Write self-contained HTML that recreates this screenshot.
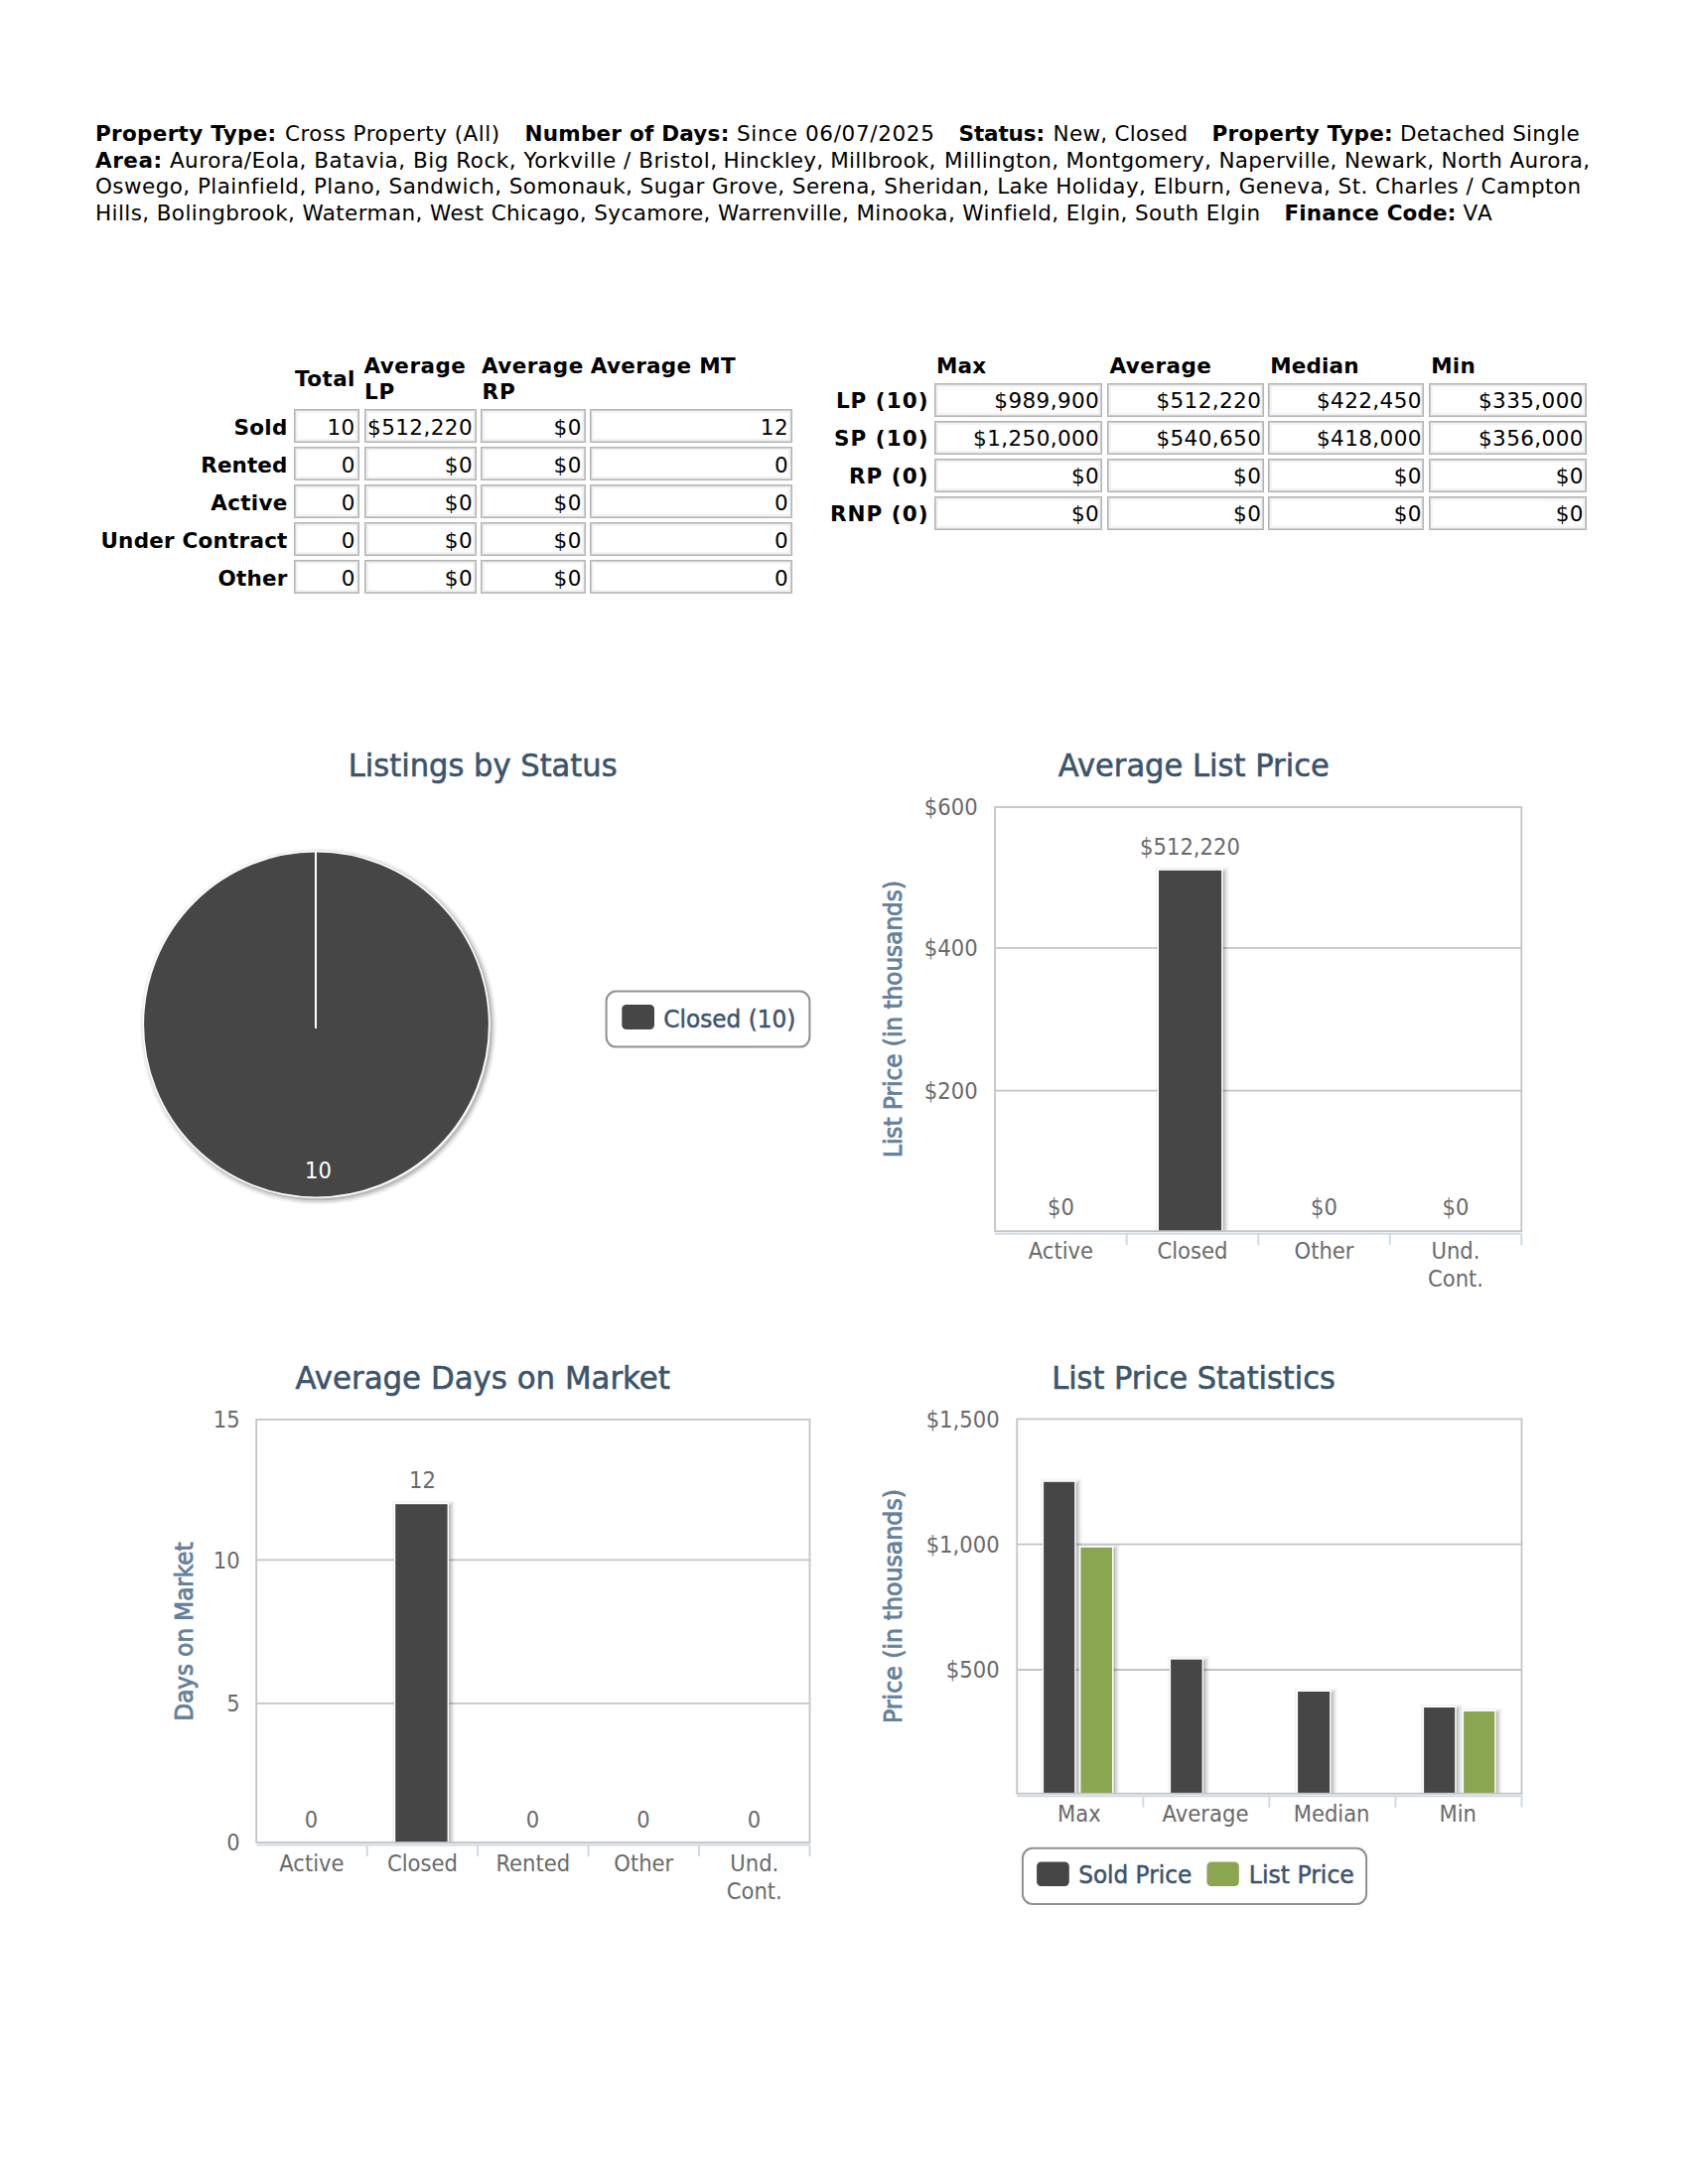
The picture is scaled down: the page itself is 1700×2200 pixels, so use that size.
<!DOCTYPE html>
<html lang="en"><head><meta charset="utf-8"><title>Market Statistics</title>
<style>
html,body{margin:0;padding:0;background:#fff}
body{width:1700px;height:2200px;position:relative;overflow:hidden;font-family:"DejaVu Sans","Liberation Sans",sans-serif;color:#000}
.t{position:absolute;white-space:nowrap;line-height:30px;height:30px}
.t b{font-weight:bold}
.c{position:absolute;box-sizing:border-box;border:1px solid #b4b4b4;box-shadow:inset 0 0 0 1px #cdcdcd,inset 0 0 0 3px #f3f3f3;background:#fff}
svg{position:absolute;left:0;top:0}
svg text{font-family:"DejaVu Sans","Liberation Sans",sans-serif}
svg text.cb{font-family:"DejaVu Sans Condensed","DejaVu Sans","Liberation Sans",sans-serif}
</style></head><body>
<div class="c" style="left:296.2px;top:412.3px;width:65.5px;height:33.4px"></div>
<div class="c" style="left:366.6px;top:412.3px;width:113.4px;height:33.4px"></div>
<div class="c" style="left:484.4px;top:412.3px;width:105.3px;height:33.4px"></div>
<div class="c" style="left:594.2px;top:412.3px;width:203.8px;height:33.4px"></div>
<div class="c" style="left:296.2px;top:450.3px;width:65.5px;height:33.4px"></div>
<div class="c" style="left:366.6px;top:450.3px;width:113.4px;height:33.4px"></div>
<div class="c" style="left:484.4px;top:450.3px;width:105.3px;height:33.4px"></div>
<div class="c" style="left:594.2px;top:450.3px;width:203.8px;height:33.4px"></div>
<div class="c" style="left:296.2px;top:488.3px;width:65.5px;height:33.4px"></div>
<div class="c" style="left:366.6px;top:488.3px;width:113.4px;height:33.4px"></div>
<div class="c" style="left:484.4px;top:488.3px;width:105.3px;height:33.4px"></div>
<div class="c" style="left:594.2px;top:488.3px;width:203.8px;height:33.4px"></div>
<div class="c" style="left:296.2px;top:526.3px;width:65.5px;height:33.4px"></div>
<div class="c" style="left:366.6px;top:526.3px;width:113.4px;height:33.4px"></div>
<div class="c" style="left:484.4px;top:526.3px;width:105.3px;height:33.4px"></div>
<div class="c" style="left:594.2px;top:526.3px;width:203.8px;height:33.4px"></div>
<div class="c" style="left:296.2px;top:564.3px;width:65.5px;height:33.4px"></div>
<div class="c" style="left:366.6px;top:564.3px;width:113.4px;height:33.4px"></div>
<div class="c" style="left:484.4px;top:564.3px;width:105.3px;height:33.4px"></div>
<div class="c" style="left:594.2px;top:564.3px;width:203.8px;height:33.4px"></div>
<div class="c" style="left:940.8px;top:386.0px;width:169.5px;height:33.6px"></div>
<div class="c" style="left:1115.4px;top:386.0px;width:157.2px;height:33.6px"></div>
<div class="c" style="left:1277.1px;top:386.0px;width:156.9px;height:33.6px"></div>
<div class="c" style="left:1439.2px;top:386.0px;width:159.2px;height:33.6px"></div>
<div class="c" style="left:940.8px;top:424.0px;width:169.5px;height:33.6px"></div>
<div class="c" style="left:1115.4px;top:424.0px;width:157.2px;height:33.6px"></div>
<div class="c" style="left:1277.1px;top:424.0px;width:156.9px;height:33.6px"></div>
<div class="c" style="left:1439.2px;top:424.0px;width:159.2px;height:33.6px"></div>
<div class="c" style="left:940.8px;top:462.0px;width:169.5px;height:33.6px"></div>
<div class="c" style="left:1115.4px;top:462.0px;width:157.2px;height:33.6px"></div>
<div class="c" style="left:1277.1px;top:462.0px;width:156.9px;height:33.6px"></div>
<div class="c" style="left:1439.2px;top:462.0px;width:159.2px;height:33.6px"></div>
<div class="c" style="left:940.8px;top:500.0px;width:169.5px;height:33.6px"></div>
<div class="c" style="left:1115.4px;top:500.0px;width:157.2px;height:33.6px"></div>
<div class="c" style="left:1277.1px;top:500.0px;width:156.9px;height:33.6px"></div>
<div class="c" style="left:1439.2px;top:500.0px;width:159.2px;height:33.6px"></div>
<div class="t" style="font-size:21.50px;top:120.46px;left:96.00px;letter-spacing:0.308px;"><b>Property Type:</b></div>
<div class="t" style="font-size:21.50px;top:120.46px;left:287.00px;letter-spacing:0.474px;">Cross Property (All)</div>
<div class="t" style="font-size:21.50px;top:120.46px;left:528.50px;letter-spacing:0.234px;"><b>Number of Days:</b></div>
<div class="t" style="font-size:21.50px;top:120.46px;left:742.00px;letter-spacing:0.652px;">Since 06/07/2025</div>
<div class="t" style="font-size:21.50px;top:120.46px;left:965.50px;letter-spacing:-0.107px;"><b>Status:</b></div>
<div class="t" style="font-size:21.50px;top:120.46px;left:1060.50px;letter-spacing:0.293px;">New, Closed</div>
<div class="t" style="font-size:21.50px;top:120.46px;left:1220.50px;letter-spacing:0.308px;"><b>Property Type:</b></div>
<div class="t" style="font-size:21.50px;top:120.46px;left:1410.00px;letter-spacing:0.291px;">Detached Single</div>
<div class="t" style="font-size:21.50px;top:146.86px;left:96.00px;letter-spacing:0.518px;"><b>Area:</b> Aurora/Eola, Batavia, Big Rock, Yorkville / Bristol,</div>
<div class="t" style="font-size:21.50px;top:146.86px;left:728.50px;letter-spacing:0.219px;">Hinckley, Millbrook,</div>
<div class="t" style="font-size:21.50px;top:146.86px;left:951.00px;letter-spacing:0.328px;">Millington, Montgomery, Naperville, Newark, North Aurora,</div>
<div class="t" style="font-size:21.50px;top:173.26px;left:96.00px;letter-spacing:0.439px;">Oswego, Plainfield, Plano, Sandwich, Somonauk, Sugar Grove, Serena, Sheridan, Lake Holiday, Elburn, Geneva, St. Charles / Campton</div>
<div class="t" style="font-size:21.50px;top:199.66px;left:96.00px;letter-spacing:0.396px;">Hills, Bolingbrook, Waterman, West Chicago, Sycamore, Warrenville, Minooka, Winfield, Elgin, South Elgin</div>
<div class="t" style="font-size:21.50px;top:199.66px;left:1293.50px;letter-spacing:0.145px;"><b>Finance Code:</b></div>
<div class="t" style="font-size:21.50px;top:199.66px;left:1473.50px;letter-spacing:1.227px;">VA</div>
<div class="t" style="font-size:21.50px;top:415.56px;right:1410.60px;letter-spacing:0.321px;margin-right:-0.321px;"><b>Sold</b></div>
<div class="t" style="font-size:21.50px;top:415.76px;right:1342.70px;letter-spacing:0.445px;margin-right:-0.445px;">10</div>
<div class="t" style="font-size:21.50px;top:415.76px;right:1224.40px;letter-spacing:0.418px;margin-right:-0.418px;">$512,220</div>
<div class="t" style="font-size:21.50px;top:415.76px;right:1114.60px;letter-spacing:0.445px;margin-right:-0.445px;">$0</div>
<div class="t" style="font-size:21.50px;top:415.76px;right:906.40px;letter-spacing:0.445px;margin-right:-0.445px;">12</div>
<div class="t" style="font-size:21.50px;top:453.56px;right:1410.60px;letter-spacing:0.083px;margin-right:-0.083px;"><b>Rented</b></div>
<div class="t" style="font-size:21.50px;top:453.76px;right:1342.70px;letter-spacing:0.446px;margin-right:-0.446px;">0</div>
<div class="t" style="font-size:21.50px;top:453.76px;right:1224.40px;letter-spacing:0.445px;margin-right:-0.445px;">$0</div>
<div class="t" style="font-size:21.50px;top:453.76px;right:1114.60px;letter-spacing:0.445px;margin-right:-0.445px;">$0</div>
<div class="t" style="font-size:21.50px;top:453.76px;right:906.40px;letter-spacing:0.446px;margin-right:-0.446px;">0</div>
<div class="t" style="font-size:21.50px;top:491.56px;right:1410.60px;letter-spacing:0.293px;margin-right:-0.293px;"><b>Active</b></div>
<div class="t" style="font-size:21.50px;top:491.76px;right:1342.70px;letter-spacing:0.446px;margin-right:-0.446px;">0</div>
<div class="t" style="font-size:21.50px;top:491.76px;right:1224.40px;letter-spacing:0.445px;margin-right:-0.445px;">$0</div>
<div class="t" style="font-size:21.50px;top:491.76px;right:1114.60px;letter-spacing:0.445px;margin-right:-0.445px;">$0</div>
<div class="t" style="font-size:21.50px;top:491.76px;right:906.40px;letter-spacing:0.446px;margin-right:-0.446px;">0</div>
<div class="t" style="font-size:21.50px;top:529.56px;right:1410.60px;letter-spacing:0.222px;margin-right:-0.222px;"><b>Under Contract</b></div>
<div class="t" style="font-size:21.50px;top:529.76px;right:1342.70px;letter-spacing:0.446px;margin-right:-0.446px;">0</div>
<div class="t" style="font-size:21.50px;top:529.76px;right:1224.40px;letter-spacing:0.445px;margin-right:-0.445px;">$0</div>
<div class="t" style="font-size:21.50px;top:529.76px;right:1114.60px;letter-spacing:0.445px;margin-right:-0.445px;">$0</div>
<div class="t" style="font-size:21.50px;top:529.76px;right:906.40px;letter-spacing:0.446px;margin-right:-0.446px;">0</div>
<div class="t" style="font-size:21.50px;top:567.56px;right:1410.60px;letter-spacing:0.191px;margin-right:-0.191px;"><b>Other</b></div>
<div class="t" style="font-size:21.50px;top:567.76px;right:1342.70px;letter-spacing:0.446px;margin-right:-0.446px;">0</div>
<div class="t" style="font-size:21.50px;top:567.76px;right:1224.40px;letter-spacing:0.445px;margin-right:-0.445px;">$0</div>
<div class="t" style="font-size:21.50px;top:567.76px;right:1114.60px;letter-spacing:0.445px;margin-right:-0.445px;">$0</div>
<div class="t" style="font-size:21.50px;top:567.76px;right:906.40px;letter-spacing:0.446px;margin-right:-0.446px;">0</div>
<div class="t" style="font-size:21.50px;top:367.16px;left:297.00px;letter-spacing:0.430px;"><b>Total</b></div>
<div class="t" style="font-size:21.50px;top:353.96px;left:366.50px;letter-spacing:0.477px;"><b>Average</b></div>
<div class="t" style="font-size:21.50px;top:380.06px;left:367.00px;letter-spacing:0.816px;"><b>LP</b></div>
<div class="t" style="font-size:21.50px;top:353.96px;left:484.90px;letter-spacing:0.477px;"><b>Average</b></div>
<div class="t" style="font-size:21.50px;top:380.06px;left:485.50px;letter-spacing:0.936px;"><b>RP</b></div>
<div class="t" style="font-size:21.50px;top:353.96px;left:594.80px;letter-spacing:0.299px;"><b>Average MT</b></div>
<div class="t" style="font-size:21.50px;top:389.46px;right:765.50px;letter-spacing:1.012px;margin-right:-1.012px;"><b>LP (10)</b></div>
<div class="t" style="font-size:21.50px;top:389.46px;right:593.20px;letter-spacing:0.418px;margin-right:-0.418px;">$989,900</div>
<div class="t" style="font-size:21.50px;top:389.46px;right:430.10px;letter-spacing:0.418px;margin-right:-0.418px;">$512,220</div>
<div class="t" style="font-size:21.50px;top:389.46px;right:268.50px;letter-spacing:0.418px;margin-right:-0.418px;">$422,450</div>
<div class="t" style="font-size:21.50px;top:389.46px;right:105.50px;letter-spacing:0.418px;margin-right:-0.418px;">$335,000</div>
<div class="t" style="font-size:21.50px;top:427.46px;right:765.50px;letter-spacing:1.027px;margin-right:-1.027px;"><b>SP (10)</b></div>
<div class="t" style="font-size:21.50px;top:427.46px;right:593.20px;letter-spacing:0.401px;margin-right:-0.401px;">$1,250,000</div>
<div class="t" style="font-size:21.50px;top:427.46px;right:430.10px;letter-spacing:0.418px;margin-right:-0.418px;">$540,650</div>
<div class="t" style="font-size:21.50px;top:427.46px;right:268.50px;letter-spacing:0.418px;margin-right:-0.418px;">$418,000</div>
<div class="t" style="font-size:21.50px;top:427.46px;right:105.50px;letter-spacing:0.418px;margin-right:-0.418px;">$356,000</div>
<div class="t" style="font-size:21.50px;top:465.46px;right:765.50px;letter-spacing:1.030px;margin-right:-1.030px;"><b>RP (0)</b></div>
<div class="t" style="font-size:21.50px;top:465.46px;right:593.20px;letter-spacing:0.445px;margin-right:-0.445px;">$0</div>
<div class="t" style="font-size:21.50px;top:465.46px;right:430.10px;letter-spacing:0.445px;margin-right:-0.445px;">$0</div>
<div class="t" style="font-size:21.50px;top:465.46px;right:268.50px;letter-spacing:0.445px;margin-right:-0.445px;">$0</div>
<div class="t" style="font-size:21.50px;top:465.46px;right:105.50px;letter-spacing:0.445px;margin-right:-0.445px;">$0</div>
<div class="t" style="font-size:21.50px;top:503.46px;right:765.50px;letter-spacing:1.028px;margin-right:-1.028px;"><b>RNP (0)</b></div>
<div class="t" style="font-size:21.50px;top:503.46px;right:593.20px;letter-spacing:0.445px;margin-right:-0.445px;">$0</div>
<div class="t" style="font-size:21.50px;top:503.46px;right:430.10px;letter-spacing:0.445px;margin-right:-0.445px;">$0</div>
<div class="t" style="font-size:21.50px;top:503.46px;right:268.50px;letter-spacing:0.445px;margin-right:-0.445px;">$0</div>
<div class="t" style="font-size:21.50px;top:503.46px;right:105.50px;letter-spacing:0.445px;margin-right:-0.445px;">$0</div>
<div class="t" style="font-size:21.50px;top:353.76px;left:942.90px;letter-spacing:0.240px;"><b>Max</b></div>
<div class="t" style="font-size:21.50px;top:353.76px;left:1117.50px;letter-spacing:0.477px;"><b>Average</b></div>
<div class="t" style="font-size:21.50px;top:353.76px;left:1279.20px;letter-spacing:0.173px;"><b>Median</b></div>
<div class="t" style="font-size:21.50px;top:353.76px;left:1441.30px;letter-spacing:0.174px;"><b>Min</b></div>
<svg width="1700" height="2200" viewBox="0 0 1700 2200">
<text x="486.2" y="781.7" font-size="32.5" fill="#3b546c" text-anchor="middle" textLength="270.8" lengthAdjust="spacingAndGlyphs" stroke="#3b546c" stroke-width="0.6">Listings by Status</text>
<circle cx="320.6" cy="1034.1" r="174.2" fill="none" stroke="#000" stroke-opacity="0.05" stroke-width="10.4"/>
<circle cx="320.6" cy="1034.1" r="174.2" fill="none" stroke="#000" stroke-opacity="0.10" stroke-width="6.2"/>
<circle cx="320.6" cy="1034.1" r="174.2" fill="none" stroke="#000" stroke-opacity="0.15" stroke-width="2.1"/>
<circle cx="318.5" cy="1032.0" r="174.2" fill="#464646" stroke="#fff" stroke-width="1.6"/>
<path d="M318.0 1036.0V857.8" stroke="#fff" stroke-width="2"/>
<text x="320.5" y="1187.0" font-size="22.6" fill="#ffffff" text-anchor="middle" textLength="26.9" lengthAdjust="spacingAndGlyphs">10</text>
<rect x="610.6" y="998.5" width="204.8" height="56.1" rx="10" fill="#fff" stroke="#909090" stroke-width="2"/>
<rect x="626.3" y="1012.0" width="32.7" height="25.0" rx="4.5" fill="#464646"/>
<text x="668.3" y="1034.5" font-size="25.0" fill="#3b546c" textLength="133.0" lengthAdjust="spacingAndGlyphs" stroke="#3b546c" stroke-width="0.5">Closed (10)</text>
<path d="M1002.1 954.8H1532.3" stroke="#c4c4c4" stroke-width="1.8" fill="none"/><path d="M1002.1 1098.7H1532.3" stroke="#c4c4c4" stroke-width="1.8" fill="none"/>
<text x="1202.3" y="781.7" font-size="32.5" fill="#3b546c" text-anchor="middle" textLength="273.0" lengthAdjust="spacingAndGlyphs" stroke="#3b546c" stroke-width="0.6">Average List Price</text>
<text x="984.6" y="821.2" font-size="22.6" fill="#6a6a6a" text-anchor="end" textLength="53.8" lengthAdjust="spacingAndGlyphs">$600</text>
<text x="984.6" y="963.0" font-size="22.6" fill="#6a6a6a" text-anchor="end" textLength="53.8" lengthAdjust="spacingAndGlyphs">$400</text>
<text x="984.6" y="1106.9" font-size="22.6" fill="#6a6a6a" text-anchor="end" textLength="53.8" lengthAdjust="spacingAndGlyphs">$200</text>
<clipPath id="cp1"><rect x="1002.1" y="813.0" width="530.2" height="427.2"/></clipPath><g clip-path="url(#cp1)"><rect x="1169.1" y="878.9" width="63.1" height="369.4" rx="0.0" fill="none" stroke="#000" stroke-opacity="0.05" stroke-width="10.4"/><rect x="1169.1" y="878.9" width="63.1" height="369.4" rx="0.0" fill="none" stroke="#000" stroke-opacity="0.10" stroke-width="6.2"/><rect x="1169.1" y="878.9" width="63.1" height="369.4" rx="0.0" fill="none" stroke="#000" stroke-opacity="0.15" stroke-width="2.1"/><rect x="1165.5" y="875.3" width="66.1" height="372.4" fill="#fff"/><rect x="1167.0" y="876.8" width="63.1" height="369.4" fill="#464646"/></g>
<path d="M1002.1 1242.7H1532.3" stroke="#cfdbe7" stroke-width="2" fill="none"/><path d="M1134.7 1242.2v12M1267.2 1242.2v12M1399.8 1242.2v12M1532.3 1242.2v12" stroke="#cfdbe7" stroke-width="2" fill="none"/><rect x="1002.1" y="813.0" width="530.2" height="427.2" fill="none" stroke="#c4c4c4" stroke-width="1.8"/>
<text x="1068.4" y="1268.3" font-size="22.6" fill="#6a6a6a" text-anchor="middle" textLength="65.3" lengthAdjust="spacingAndGlyphs">Active</text>
<text x="1200.9" y="1268.3" font-size="22.6" fill="#6a6a6a" text-anchor="middle" textLength="71.0" lengthAdjust="spacingAndGlyphs">Closed</text>
<text x="1333.5" y="1268.3" font-size="22.6" fill="#6a6a6a" text-anchor="middle" textLength="60.0" lengthAdjust="spacingAndGlyphs">Other</text>
<text x="1466.0" y="1268.3" font-size="22.6" fill="#6a6a6a" text-anchor="middle" textLength="49.0" lengthAdjust="spacingAndGlyphs">Und.</text>
<text x="1466.0" y="1296.4" font-size="22.6" fill="#6a6a6a" text-anchor="middle" textLength="56.1" lengthAdjust="spacingAndGlyphs">Cont.</text>
<text x="1198.5" y="860.7" font-size="22.6" fill="#6a6a6a" text-anchor="middle" textLength="100.8" lengthAdjust="spacingAndGlyphs">$512,220</text>
<text x="1068.4" y="1224.4" font-size="22.6" fill="#6a6a6a" text-anchor="middle" textLength="26.9" lengthAdjust="spacingAndGlyphs">$0</text>
<text x="1333.5" y="1224.4" font-size="22.6" fill="#6a6a6a" text-anchor="middle" textLength="26.9" lengthAdjust="spacingAndGlyphs">$0</text>
<text x="1466.0" y="1224.4" font-size="22.6" fill="#6a6a6a" text-anchor="middle" textLength="26.9" lengthAdjust="spacingAndGlyphs">$0</text>
<text transform="translate(908.3 1026.5) rotate(-90)" text-anchor="middle" font-size="25.0" fill="#64809b" stroke="#64809b" stroke-width="0.8" class="cb" textLength="279.0" lengthAdjust="spacingAndGlyphs">List Price (in thousands)</text>
<path d="M258.2 1571.3H815.5" stroke="#c4c4c4" stroke-width="1.8" fill="none"/><path d="M258.2 1715.8H815.5" stroke="#c4c4c4" stroke-width="1.8" fill="none"/>
<text x="486.2" y="1398.5" font-size="32.5" fill="#3b546c" text-anchor="middle" textLength="377.5" lengthAdjust="spacingAndGlyphs" stroke="#3b546c" stroke-width="0.6">Average Days on Market</text>
<text x="241.6" y="1438.2" font-size="22.6" fill="#6a6a6a" text-anchor="end" textLength="26.9" lengthAdjust="spacingAndGlyphs">15</text>
<text x="241.6" y="1579.6" font-size="22.6" fill="#6a6a6a" text-anchor="end" textLength="26.9" lengthAdjust="spacingAndGlyphs">10</text>
<text x="241.6" y="1724.1" font-size="22.6" fill="#6a6a6a" text-anchor="end" textLength="13.4" lengthAdjust="spacingAndGlyphs">5</text>
<text x="241.6" y="1864.3" font-size="22.6" fill="#6a6a6a" text-anchor="end" textLength="13.4" lengthAdjust="spacingAndGlyphs">0</text>
<clipPath id="cp2"><rect x="258.2" y="1429.9" width="557.3" height="426.1"/></clipPath><g clip-path="url(#cp2)"><rect x="400.3" y="1517.3" width="52.4" height="346.8" rx="0.0" fill="none" stroke="#000" stroke-opacity="0.05" stroke-width="10.4"/><rect x="400.3" y="1517.3" width="52.4" height="346.8" rx="0.0" fill="none" stroke="#000" stroke-opacity="0.10" stroke-width="6.2"/><rect x="400.3" y="1517.3" width="52.4" height="346.8" rx="0.0" fill="none" stroke="#000" stroke-opacity="0.15" stroke-width="2.1"/><rect x="396.7" y="1513.7" width="55.4" height="349.8" fill="#fff"/><rect x="398.2" y="1515.2" width="52.4" height="346.8" fill="#464646"/></g>
<path d="M258.2 1858.5H815.5" stroke="#cfdbe7" stroke-width="2" fill="none"/><path d="M369.7 1858.0v12M481.1 1858.0v12M592.6 1858.0v12M704.0 1858.0v12M815.5 1858.0v12" stroke="#cfdbe7" stroke-width="2" fill="none"/><rect x="258.2" y="1429.9" width="557.3" height="426.1" fill="none" stroke="#c4c4c4" stroke-width="1.8"/>
<text x="313.9" y="1884.7" font-size="22.6" fill="#6a6a6a" text-anchor="middle" textLength="65.3" lengthAdjust="spacingAndGlyphs">Active</text>
<text x="425.4" y="1884.7" font-size="22.6" fill="#6a6a6a" text-anchor="middle" textLength="71.0" lengthAdjust="spacingAndGlyphs">Closed</text>
<text x="536.8" y="1884.7" font-size="22.6" fill="#6a6a6a" text-anchor="middle" textLength="74.8" lengthAdjust="spacingAndGlyphs">Rented</text>
<text x="648.3" y="1884.7" font-size="22.6" fill="#6a6a6a" text-anchor="middle" textLength="60.0" lengthAdjust="spacingAndGlyphs">Other</text>
<text x="759.8" y="1884.7" font-size="22.6" fill="#6a6a6a" text-anchor="middle" textLength="49.0" lengthAdjust="spacingAndGlyphs">Und.</text>
<text x="759.8" y="1912.8" font-size="22.6" fill="#6a6a6a" text-anchor="middle" textLength="56.1" lengthAdjust="spacingAndGlyphs">Cont.</text>
<text x="425.5" y="1499.2" font-size="22.6" fill="#6a6a6a" text-anchor="middle" textLength="26.9" lengthAdjust="spacingAndGlyphs">12</text>
<text x="313.5" y="1841.0" font-size="22.6" fill="#6a6a6a" text-anchor="middle" textLength="13.4" lengthAdjust="spacingAndGlyphs">0</text>
<text x="536.4" y="1841.0" font-size="22.6" fill="#6a6a6a" text-anchor="middle" textLength="13.4" lengthAdjust="spacingAndGlyphs">0</text>
<text x="647.9" y="1841.0" font-size="22.6" fill="#6a6a6a" text-anchor="middle" textLength="13.4" lengthAdjust="spacingAndGlyphs">0</text>
<text x="759.4" y="1841.0" font-size="22.6" fill="#6a6a6a" text-anchor="middle" textLength="13.4" lengthAdjust="spacingAndGlyphs">0</text>
<text transform="translate(194.1 1643.5) rotate(-90)" text-anchor="middle" font-size="25.0" fill="#64809b" stroke="#64809b" stroke-width="0.8" class="cb" textLength="180.0" lengthAdjust="spacingAndGlyphs">Days on Market</text>
<path d="M1024.2 1555.7H1532.5" stroke="#c4c4c4" stroke-width="1.8" fill="none"/><path d="M1024.2 1682.0H1532.5" stroke="#c4c4c4" stroke-width="1.8" fill="none"/>
<text x="1202.0" y="1398.5" font-size="32.5" fill="#3b546c" text-anchor="middle" textLength="285.5" lengthAdjust="spacingAndGlyphs" stroke="#3b546c" stroke-width="0.6">List Price Statistics</text>
<text x="1006.6" y="1437.7" font-size="22.6" fill="#6a6a6a" text-anchor="end" textLength="73.9" lengthAdjust="spacingAndGlyphs">$1,500</text>
<text x="1006.6" y="1564.0" font-size="22.6" fill="#6a6a6a" text-anchor="end" textLength="73.9" lengthAdjust="spacingAndGlyphs">$1,000</text>
<text x="1006.6" y="1690.3" font-size="22.6" fill="#6a6a6a" text-anchor="end" textLength="53.8" lengthAdjust="spacingAndGlyphs">$500</text>
<clipPath id="cp3"><rect x="1024.2" y="1429.4" width="508.3" height="377.3"/></clipPath><g clip-path="url(#cp3)"><rect x="1053.2" y="1494.9" width="31.1" height="319.9" rx="0.0" fill="none" stroke="#000" stroke-opacity="0.05" stroke-width="10.4"/><rect x="1053.2" y="1494.9" width="31.1" height="319.9" rx="0.0" fill="none" stroke="#000" stroke-opacity="0.10" stroke-width="6.2"/><rect x="1053.2" y="1494.9" width="31.1" height="319.9" rx="0.0" fill="none" stroke="#000" stroke-opacity="0.15" stroke-width="2.1"/><rect x="1049.6" y="1491.3" width="34.1" height="322.9" fill="#fff"/><rect x="1051.1" y="1492.8" width="31.1" height="319.9" fill="#464646"/><rect x="1090.5" y="1560.9" width="31.6" height="253.9" rx="0.0" fill="none" stroke="#000" stroke-opacity="0.05" stroke-width="10.4"/><rect x="1090.5" y="1560.9" width="31.6" height="253.9" rx="0.0" fill="none" stroke="#000" stroke-opacity="0.10" stroke-width="6.2"/><rect x="1090.5" y="1560.9" width="31.6" height="253.9" rx="0.0" fill="none" stroke="#000" stroke-opacity="0.15" stroke-width="2.1"/><rect x="1086.9" y="1557.3" width="34.6" height="256.9" fill="#fff"/><rect x="1088.4" y="1558.8" width="31.6" height="253.9" fill="#8aa650"/><rect x="1181.2" y="1673.8" width="31.5" height="141.0" rx="0.0" fill="none" stroke="#000" stroke-opacity="0.05" stroke-width="10.4"/><rect x="1181.2" y="1673.8" width="31.5" height="141.0" rx="0.0" fill="none" stroke="#000" stroke-opacity="0.10" stroke-width="6.2"/><rect x="1181.2" y="1673.8" width="31.5" height="141.0" rx="0.0" fill="none" stroke="#000" stroke-opacity="0.15" stroke-width="2.1"/><rect x="1177.6" y="1670.2" width="34.5" height="144.0" fill="#fff"/><rect x="1179.1" y="1671.7" width="31.5" height="141.0" fill="#464646"/><rect x="1309.2" y="1706.1" width="32.0" height="108.7" rx="0.0" fill="none" stroke="#000" stroke-opacity="0.05" stroke-width="10.4"/><rect x="1309.2" y="1706.1" width="32.0" height="108.7" rx="0.0" fill="none" stroke="#000" stroke-opacity="0.10" stroke-width="6.2"/><rect x="1309.2" y="1706.1" width="32.0" height="108.7" rx="0.0" fill="none" stroke="#000" stroke-opacity="0.15" stroke-width="2.1"/><rect x="1305.6" y="1702.5" width="35.0" height="111.7" fill="#fff"/><rect x="1307.1" y="1704.0" width="32.0" height="108.7" fill="#464646"/><rect x="1436.2" y="1722.1" width="31.1" height="92.7" rx="0.0" fill="none" stroke="#000" stroke-opacity="0.05" stroke-width="10.4"/><rect x="1436.2" y="1722.1" width="31.1" height="92.7" rx="0.0" fill="none" stroke="#000" stroke-opacity="0.10" stroke-width="6.2"/><rect x="1436.2" y="1722.1" width="31.1" height="92.7" rx="0.0" fill="none" stroke="#000" stroke-opacity="0.15" stroke-width="2.1"/><rect x="1432.6" y="1718.5" width="34.1" height="95.7" fill="#fff"/><rect x="1434.1" y="1720.0" width="31.1" height="92.7" fill="#464646"/><rect x="1476.2" y="1726.1" width="31.1" height="88.7" rx="0.0" fill="none" stroke="#000" stroke-opacity="0.05" stroke-width="10.4"/><rect x="1476.2" y="1726.1" width="31.1" height="88.7" rx="0.0" fill="none" stroke="#000" stroke-opacity="0.10" stroke-width="6.2"/><rect x="1476.2" y="1726.1" width="31.1" height="88.7" rx="0.0" fill="none" stroke="#000" stroke-opacity="0.15" stroke-width="2.1"/><rect x="1472.6" y="1722.5" width="34.1" height="91.7" fill="#fff"/><rect x="1474.1" y="1724.0" width="31.1" height="88.7" fill="#8aa650"/></g>
<path d="M1024.2 1809.2H1532.5" stroke="#cfdbe7" stroke-width="2" fill="none"/><path d="M1151.3 1808.7v12M1278.3 1808.7v12M1405.4 1808.7v12M1532.5 1808.7v12" stroke="#cfdbe7" stroke-width="2" fill="none"/><rect x="1024.2" y="1429.4" width="508.3" height="377.3" fill="none" stroke="#c4c4c4" stroke-width="1.8"/>
<text x="1086.9" y="1835.0" font-size="22.6" fill="#6a6a6a" text-anchor="middle" textLength="43.7" lengthAdjust="spacingAndGlyphs">Max</text>
<text x="1214.0" y="1835.0" font-size="22.6" fill="#6a6a6a" text-anchor="middle" textLength="86.8" lengthAdjust="spacingAndGlyphs">Average</text>
<text x="1341.1" y="1835.0" font-size="22.6" fill="#6a6a6a" text-anchor="middle" textLength="76.8" lengthAdjust="spacingAndGlyphs">Median</text>
<text x="1468.2" y="1835.0" font-size="22.6" fill="#6a6a6a" text-anchor="middle" textLength="37.5" lengthAdjust="spacingAndGlyphs">Min</text>
<text transform="translate(908.3 1618.0) rotate(-90)" text-anchor="middle" font-size="25.0" fill="#64809b" stroke="#64809b" stroke-width="0.8" class="cb" textLength="236.0" lengthAdjust="spacingAndGlyphs">Price (in thousands)</text>
<rect x="1029.9" y="1861.8" width="346.2" height="56.2" rx="10" fill="#fff" stroke="#909090" stroke-width="2"/>
<rect x="1044.1" y="1875.4" width="32.7" height="24.6" rx="4.5" fill="#464646"/>
<text x="1086.2" y="1896.9" font-size="25.0" fill="#3b546c" textLength="114.0" lengthAdjust="spacingAndGlyphs" stroke="#3b546c" stroke-width="0.5">Sold Price</text>
<rect x="1215.4" y="1875.4" width="32.4" height="24.6" rx="4.5" fill="#8aa650"/>
<text x="1257.8" y="1896.9" font-size="25.0" fill="#3b546c" textLength="106.0" lengthAdjust="spacingAndGlyphs" stroke="#3b546c" stroke-width="0.5">List Price</text>
</svg>
</body></html>
